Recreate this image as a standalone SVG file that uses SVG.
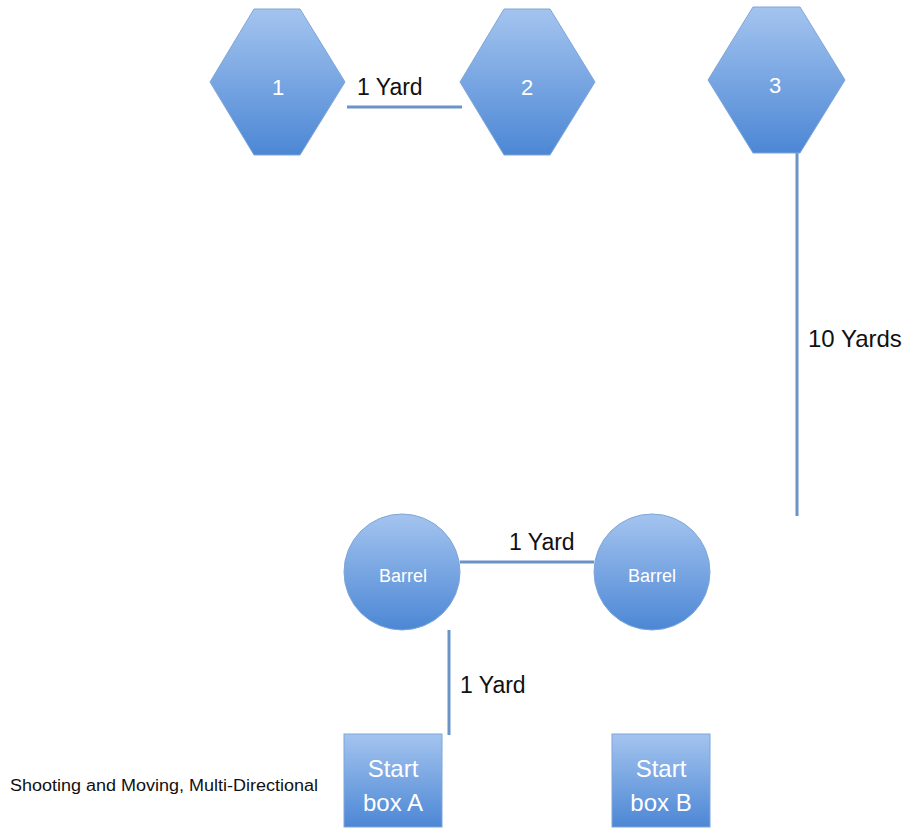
<svg xmlns="http://www.w3.org/2000/svg" width="909" height="829" viewBox="0 0 909 829">
<defs>
<linearGradient id="g" x1="0" y1="0" x2="0" y2="1">
<stop offset="0" stop-color="#a4c4ef"/>
<stop offset="1" stop-color="#4c87d5"/>
</linearGradient>
<style>
.shape{fill:url(#g);stroke:#7fa6d8;stroke-width:1}
.lbl{fill:#ffffff;font-family:"Liberation Sans",Arial,sans-serif;text-anchor:middle}
.txt{fill:#111111;font-family:"Liberation Sans",Arial,sans-serif}
.conn{stroke:#6a93c8;stroke-width:3;fill:none}
</style>
</defs>
<rect width="909" height="829" fill="#ffffff"/>
<g id="connectors">
<line class="conn" x1="347" y1="107" x2="462" y2="107"/>
<line class="conn" x1="797" y1="153" x2="797" y2="516"/>
<line class="conn" x1="460" y1="562" x2="594" y2="562"/>
<line class="conn" x1="449" y1="630" x2="449" y2="735"/>
<text class="txt" x="357" y="95" font-size="23">1 Yard</text>
<text class="txt" x="808" y="347" font-size="24">10 Yards</text>
<text class="txt" x="509" y="550" font-size="23">1 Yard</text>
<text class="txt" x="460" y="693" font-size="23">1 Yard</text>
</g>
<g id="hex1">
<polygon class="shape" points="254,9 300,9 345,82 300,155 254,155 210,82"/>
<text class="lbl" x="278" y="95" font-size="22">1</text>
</g>
<g id="hex2">
<polygon class="shape" points="504,9 550,9 595,82 550,155 504,155 460,82"/>
<text class="lbl" x="527" y="95" font-size="22">2</text>
</g>
<g id="hex3">
<polygon class="shape" points="753,7 800,7 845,80 800,153 753,153 708,80"/>
<text class="lbl" x="775" y="93" font-size="22">3</text>
</g>
<g id="barrel1">
<circle class="shape" cx="402" cy="572" r="58"/>
<text class="lbl" x="403" y="582" font-size="18">Barrel</text>
</g>
<g id="barrel2">
<circle class="shape" cx="652" cy="572" r="58"/>
<text class="lbl" x="652" y="582" font-size="18">Barrel</text>
</g>
<g id="startA">
<rect class="shape" x="344" y="734" width="98" height="93"/>
<text class="lbl" x="393" y="777" font-size="24">Start</text>
<text class="lbl" x="393" y="811" font-size="24">box A</text>
</g>
<g id="startB">
<rect class="shape" x="612" y="734" width="98" height="93"/>
<text class="lbl" x="661" y="777" font-size="24">Start</text>
<text class="lbl" x="661" y="811" font-size="24">box B</text>
</g>
<g id="caption">
<text class="txt" x="10" y="791" font-size="16" textLength="308" lengthAdjust="spacingAndGlyphs">Shooting and Moving, Multi-Directional</text>
</g>
</svg>
